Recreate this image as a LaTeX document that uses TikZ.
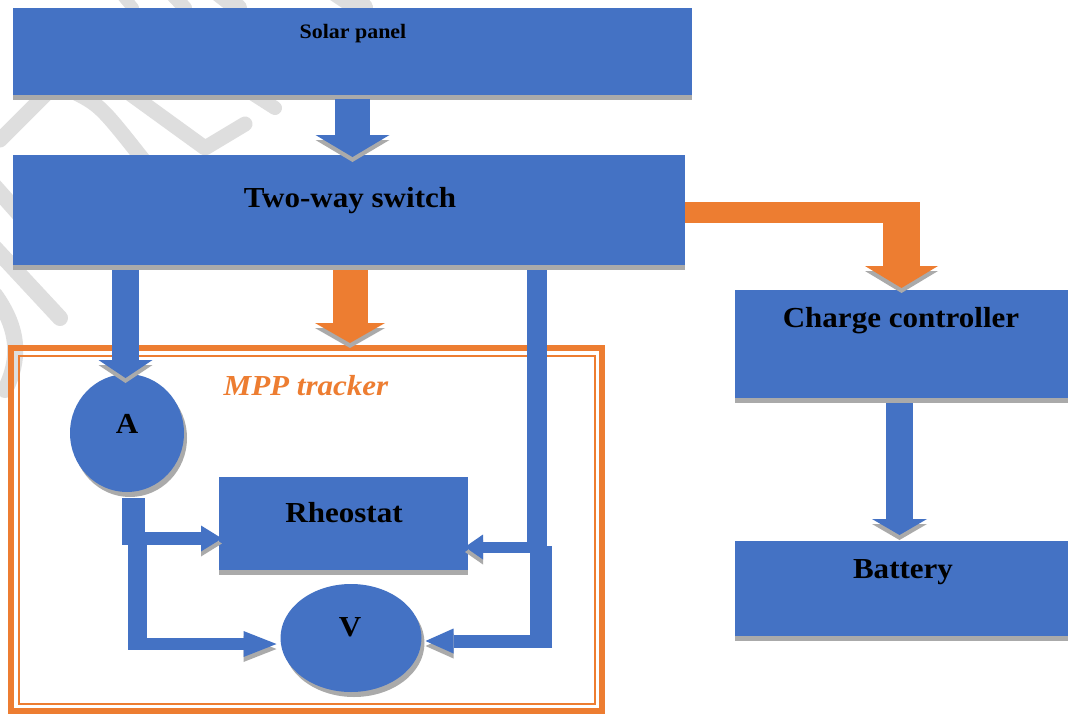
\documentclass[tikz,border=0pt]{standalone}
\usepackage{fontspec}
\setmainfont{Liberation Serif}[FakeStretch=1.07]
\usetikzlibrary{arrows.meta,calc,shapes.geometric}
\definecolor{blu}{HTML}{4472C4}
\definecolor{org}{HTML}{ED7D31}
\definecolor{shd}{HTML}{AAAAAA}
\definecolor{wm}{HTML}{DEDEDE}
\tikzset{
  boxnode/.style={rectangle, fill=blu, draw=none, inner sep=0pt, outer sep=0pt, anchor=north west,
    preaction={fill=shd, transform canvas={shift={(0,5)}}}},
  ellnode/.style={ellipse, fill=blu, draw=none, inner sep=0pt, outer sep=0pt,
    preaction={fill=shd, transform canvas={shift={(3,5)}}}},
  lbl/.style={anchor=base, inner sep=0pt, font=\bfseries\fontsize{29}{32}\selectfont},
  blk/.style={draw=blu, line width=#1, line cap=butt, line join=miter},
  oblk/.style={draw=org, line width=#1, line cap=butt, line join=miter},
  bshadow/.style={preaction={draw=shd, transform canvas={shift={(0,5)}}}},
  vshadow/.style={preaction={draw=shd, transform canvas={shift={(0,5)}}}},
  wmark/.style={draw=wm, line width=#1, line cap=round, line join=round},
}
\begin{document}
\begin{tikzpicture}[x=1pt,y=-1pt]
\fill[white] (0,0) rectangle (1069,715);
\useasboundingbox (0,0) rectangle (1069,715);
% faint watermark
\draw[wmark=15] (0,140) -- (55,85);
\draw[wmark=15] (70,90) .. controls (100,105) .. (145,162);
\draw[wmark=15] (125,90) -- (205,148) -- (245,124);
\draw[wmark=14] (250,92) -- (275,108);
\draw[wmark=12] (118,-10) -- (133,8);
\draw[wmark=14] (168,-10) -- (185,8);
\draw[wmark=18] (215,-10) -- (238,8);
\draw[wmark=22] (335,-10) -- (362,8);
\draw[wmark=16] (-20,232) -- (60,318);
\draw[wmark=16] (-20,170) -- (20,215);
\draw[wmark=16] (-5,295) .. controls (20,330) and (20,360) .. (5,390);
% boxes
\node[boxnode, minimum width=679, minimum height=87] (sp) at (13,8) {};
\node[boxnode, minimum width=672, minimum height=110] (sw) at (13,155) {};
\node[boxnode, minimum width=333, minimum height=108] (cc) at (735,290) {};
\node[boxnode, minimum width=333, minimum height=95] (bat) at (735,541) {};
\node[draw=org, line width=6, inner sep=0pt, outer sep=0pt, anchor=north west,
      minimum width=591, minimum height=363] (mpp) at (11,348) {};
\draw[org, line width=2] ($(mpp.north west)+(8,8)$) rectangle ($(mpp.south east)+(-7,-7)$);
\node[boxnode, minimum width=249, minimum height=93] (rh) at (219,477) {};
\node[ellnode, minimum width=114, minimum height=118] (A) at (127,433) {};
\node[ellnode, minimum width=141, minimum height=108] (V) at (351,638) {};
% connectors
\draw[blk=35, vshadow, -{Triangle[width=74pt,length=22pt,line width=0pt]}]
  ($(sp.south)+(0,4)$) -- ($(sp.south |- sw.north)+(0,2)$);
\draw[blk=27, vshadow, -{Triangle[width=54pt,length=18pt,line width=0pt]}]
  ($(A.north |- sw.south)+(-1.5,5)$) -- ($(A.north)+(-1.5,4)$);
\coordinate (o1) at ($(sw.south)+(1,5)$);
\draw[oblk=35, vshadow, -{Triangle[width=70pt,length=20pt,line width=0pt]}]
  (o1) -- ($(o1 |- mpp.north)+(0,-5)$);
% switch -> rheostat and V (right side)
\coordinate (jr) at (537,547);
\draw[blk=20] ($(jr |- sw.south)+(0,5)$) -- ($(jr)+(0,5)$);
\draw[blk=11, bshadow, -{Triangle[width=25pt,length=18pt,line width=0pt]}]
  ($(jr)+(10,0)$) -- ($(rh.south east)+(-3,-23)$);
\coordinate (jv) at (541,546);
\draw[blk=22] (jv) -- ++(0,101);
\draw[blk=13, bshadow, -{Triangle[width=25pt,length=28pt,line width=0pt]}]
  ($(jv)+(11,95)$) -- ($(V.east)+(4,3)$);
% A -> rheostat and V (left side)
\coordinate (ja) at ($(A.south)+(6.5,6)$);
\draw[blk=23] (ja) -- ++(0,47);
\draw[blk=13, bshadow, -{Triangle[width=26pt,length=21pt,line width=0pt]}]
  ($(ja)+(-11.5,40.5)$) -- ($(rh.west)+(3,15)$);
\coordinate (jb) at (137.5,545);
\draw[blk=19] (jb) -- ++(0,105);
\draw[blk=12, bshadow, -{Triangle[width=26pt,length=33pt,line width=0pt]}]
  ($(jb)+(-9.5,99)$) -- ($(V.west)+(-4,6)$);
% switch -> charge controller
\draw[oblk=21, vshadow] ($(sw.north east)+(0,57.5)$) -- ($(cc.north)+(18.5,-77.5)$);
\draw[oblk=37, vshadow, -{Triangle[width=73pt,length=22pt,line width=0pt]}]
  ($(cc.north)+(0,-88)$) -- ($(cc.north)+(0,-2)$);
% charge controller -> battery
\draw[blk=27, vshadow, -{Triangle[width=55pt,length=16pt,line width=0pt]}]
  ($(cc.south)+(-2,5)$) -- ($(cc.south |- bat.north)+(-2,-6)$);
% labels
\node[lbl, font=\bfseries\fontsize{20.5}{24}\selectfont] (tsp) at (353,38) {Solar panel};
\node[lbl] (tsw) at (350,207) {Two-way switch};
\node[lbl] (tcc) at (901,327) {Charge controller};
\node[lbl] (tbat) at (903,578) {Battery};
\node[lbl] (trh) at (344,522) {Rheostat};
\node[lbl] (tA) at (127,433) {A};
\node[lbl] (tV) at (350,636) {V};
\node[lbl, font=\bfseries\itshape\fontsize{29}{32}\selectfont, text=org] (tmpp) at (306,395) {MPP tracker};
\end{tikzpicture}
\end{document}
